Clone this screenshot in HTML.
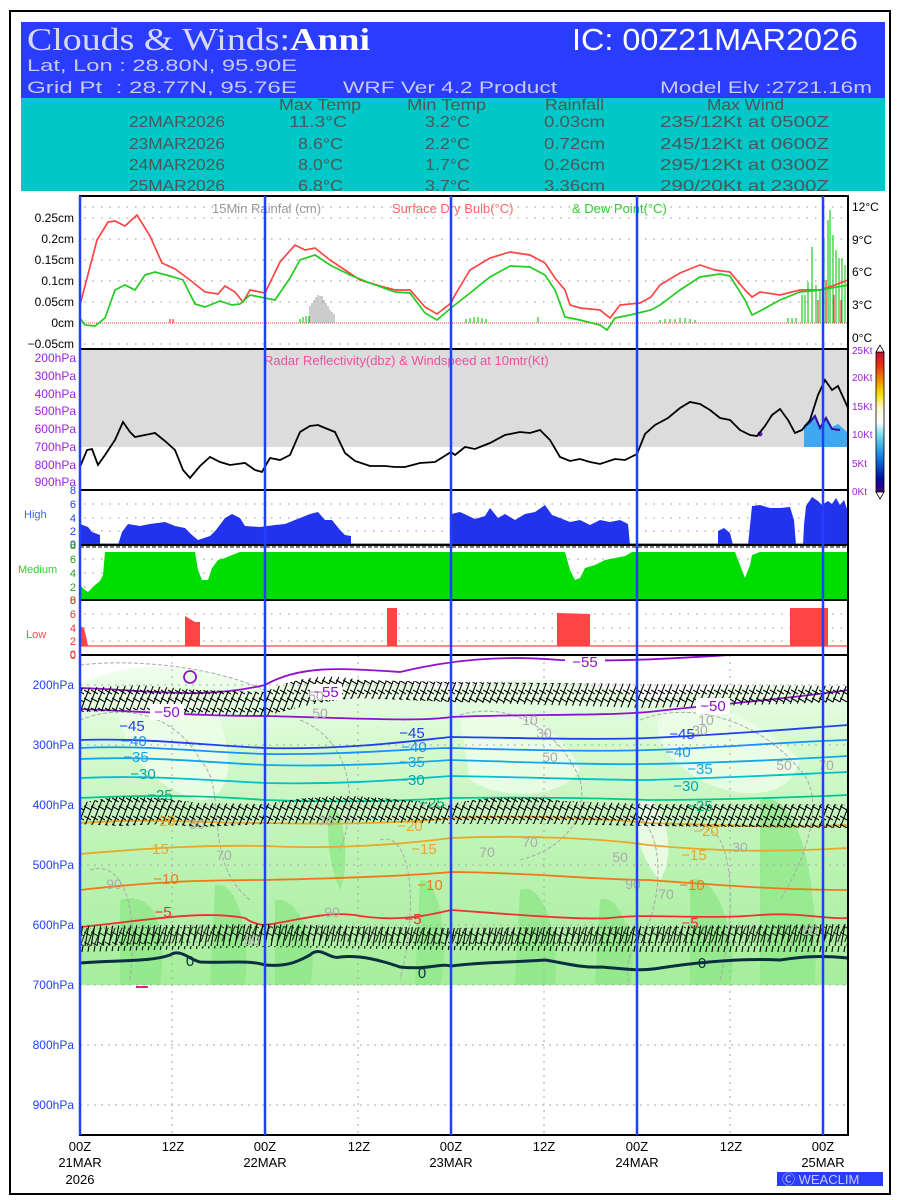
<!DOCTYPE html>
<html><head><meta charset="utf-8"><style>
html,body{margin:0;padding:0;background:#fff;}
svg{display:block;font-family:"Liberation Sans",sans-serif;}
</style></head><body>
<svg width="900" height="1200" viewBox="0 0 900 1200" xmlns="http://www.w3.org/2000/svg">
<defs>
<pattern id="barb" width="7" height="18" patternUnits="userSpaceOnUse">
<path d="M0 18 L7 0 M-3.5 9 L3.5 -9 M3.5 27 L10.5 9 M0 6 L7 10 M0 14 L7 18" stroke="#000" stroke-width="1.1"/>
</pattern>
<pattern id="barb2" width="6" height="22" patternUnits="userSpaceOnUse">
<path d="M1 22 L5 0" stroke="#000" stroke-width="1.1"/>
</pattern>
<linearGradient id="gfill" x1="0" y1="0" x2="0" y2="1">
<stop offset="0" stop-color="#f4fff2"/>
<stop offset="0.25" stop-color="#d8fad2"/>
<stop offset="0.55" stop-color="#c0f4b8"/>
<stop offset="1" stop-color="#a6ee9c"/>
</linearGradient>
<linearGradient id="cbar" x1="0" y1="0" x2="0" y2="1">
<stop offset="0" stop-color="#c0103a"/>
<stop offset="0.1" stop-color="#ee3010"/>
<stop offset="0.2" stop-color="#f08a00"/>
<stop offset="0.3" stop-color="#f8e000"/>
<stop offset="0.4" stop-color="#fff8d0"/>
<stop offset="0.5" stop-color="#ffffff"/>
<stop offset="0.6" stop-color="#70d8f0"/>
<stop offset="0.75" stop-color="#1080e0"/>
<stop offset="0.9" stop-color="#0010a0"/>
<stop offset="1" stop-color="#400080"/>
</linearGradient>
</defs>
<rect x="10" y="11" width="880" height="1183" fill="none" stroke="#000" stroke-width="2"/>
<rect x="21" y="22" width="864" height="76" fill="#2a3dff"/>
<rect x="21" y="98" width="864" height="93" fill="#00c8c8"/>
<text x="27" y="50" font-family="Liberation Serif,serif" font-size="32" fill="#d8d8f4" textLength="343" lengthAdjust="spacingAndGlyphs">Clouds &amp; Winds:<tspan fill="#fff" font-weight="bold">Anni</tspan></text>
<text x="572" y="50" font-size="31" fill="#fff" textLength="286" lengthAdjust="spacingAndGlyphs">IC: 00Z21MAR2026</text>
<text x="27" y="71" font-size="17" fill="#c8c8f0" textLength="270" lengthAdjust="spacingAndGlyphs">Lat, Lon : 28.80N, 95.90E</text>
<text x="27" y="93" font-size="17" fill="#c8c8f0" textLength="270" lengthAdjust="spacingAndGlyphs">Grid Pt&#160;&#160;: 28.77N, 95.76E</text>
<text x="343" y="93" font-size="17" fill="#c8c8f0" textLength="214" lengthAdjust="spacingAndGlyphs">WRF Ver 4.2 Product</text>
<text x="660" y="93" font-size="17" fill="#c8c8f0" textLength="212" lengthAdjust="spacingAndGlyphs">Model Elv :2721.16m</text>
<g font-size="16" fill="#4a5858">
<text x="279" y="110" textLength="82" lengthAdjust="spacingAndGlyphs">Max Temp</text><text x="407" y="110" textLength="79" lengthAdjust="spacingAndGlyphs">Min Temp</text><text x="545" y="110" textLength="59" lengthAdjust="spacingAndGlyphs">Rainfall</text><text x="707" y="110" textLength="77" lengthAdjust="spacingAndGlyphs">Max Wind</text>
<text x="129" y="127" textLength="96" lengthAdjust="spacingAndGlyphs">22MAR2026</text><text x="289" y="127" textLength="58" lengthAdjust="spacingAndGlyphs">11.3°C</text><text x="425" y="127" textLength="45" lengthAdjust="spacingAndGlyphs">3.2°C</text><text x="544" y="127" textLength="61" lengthAdjust="spacingAndGlyphs">0.03cm</text><text x="660" y="127" textLength="169" lengthAdjust="spacingAndGlyphs">235/12Kt at 0500Z</text>
<text x="129" y="149" textLength="96" lengthAdjust="spacingAndGlyphs">23MAR2026</text><text x="298" y="149" textLength="45" lengthAdjust="spacingAndGlyphs">8.6°C</text><text x="425" y="149" textLength="45" lengthAdjust="spacingAndGlyphs">2.2°C</text><text x="544" y="149" textLength="61" lengthAdjust="spacingAndGlyphs">0.72cm</text><text x="660" y="149" textLength="169" lengthAdjust="spacingAndGlyphs">245/12Kt at 0600Z</text>
<text x="129" y="170" textLength="96" lengthAdjust="spacingAndGlyphs">24MAR2026</text><text x="298" y="170" textLength="45" lengthAdjust="spacingAndGlyphs">8.0°C</text><text x="425" y="170" textLength="45" lengthAdjust="spacingAndGlyphs">1.7°C</text><text x="544" y="170" textLength="61" lengthAdjust="spacingAndGlyphs">0.26cm</text><text x="660" y="170" textLength="169" lengthAdjust="spacingAndGlyphs">295/12Kt at 0300Z</text>
<text x="129" y="191" textLength="96" lengthAdjust="spacingAndGlyphs">25MAR2026</text><text x="298" y="191" textLength="45" lengthAdjust="spacingAndGlyphs">6.8°C</text><text x="425" y="191" textLength="45" lengthAdjust="spacingAndGlyphs">3.7°C</text><text x="544" y="191" textLength="61" lengthAdjust="spacingAndGlyphs">3.36cm</text><text x="660" y="191" textLength="169" lengthAdjust="spacingAndGlyphs">290/20Kt at 2300Z</text>
</g>
<rect x="21" y="191" width="864" height="5" fill="#fff"/>

<g stroke="#aaa" stroke-width="1.3" stroke-dasharray="1.5,7">
<line x1="84" y1="218" x2="846" y2="218"/><line x1="84" y1="239" x2="846" y2="239"/><line x1="84" y1="260" x2="846" y2="260"/><line x1="84" y1="281" x2="846" y2="281"/><line x1="84" y1="302" x2="846" y2="302"/><line x1="84" y1="344" x2="846" y2="344"/><line x1="84" y1="207" x2="846" y2="207"/>
</g>
<line x1="80" y1="323" x2="848" y2="323" stroke="#e33" stroke-width="1" stroke-dasharray="1,1"/>
<g font-size="12" fill="#000" text-anchor="end">
<text x="74" y="222">0.25cm</text><text x="74" y="243">0.2cm</text><text x="74" y="264">0.15cm</text><text x="74" y="285">0.1cm</text><text x="74" y="306">0.05cm</text><text x="74" y="327">0cm</text><text x="74" y="348">−0.05cm</text>
</g>
<g font-size="12" fill="#000"><text x="852" y="211">12°C</text><text x="852" y="244">9°C</text><text x="852" y="276">6°C</text><text x="852" y="309">3°C</text><text x="852" y="342">0°C</text></g>
<text x="212" y="213" font-size="13" fill="#999">15Min Rainfal (cm)</text>
<text x="392" y="213" font-size="13" fill="#f66">Surface Dry Bulb(°C)</text>
<text x="572" y="213" font-size="13" fill="#3c3">&amp; Dew Point(°C)</text>
<g stroke="#999" stroke-width="1">
<path d="M310 323V306M312 323V303M314 323V300M316 323V297M318 323V295M320 323V296M322 323V296M324 323V300M326 323V303M328 323V306M330 323V310M332 323V312M334 323V314"/>
</g>
<g stroke="#2c2" stroke-width="1.2">
<path d="M300 323V319M303 323V317M306 323V316M309 323V316M466 323V319M470 323V318M474 323V317M478 323V317M482 323V318M486 323V319M538 323V317M660 323V320M665 323V319M670 323V319M675 323V319M680 323V318M685 323V318M690 323V319M695 323V320M788 323V318M792 323V318M796 323V318M808 323V282M812 323V247M816 323V285M820 323V290M824 323V240M828 323V220M830 323V210M833 323V235M836 323V250M839 323V258M842 323V258M845 323V265M802 323V295M805 323V295"/>
</g>
<g stroke="#e33" stroke-width="1.2"><path d="M170 323V319M173 323V319M818 323V300M826 323V280M834 323V295M841 323V300"/></g>
<polyline fill="none" stroke="#f44" stroke-width="1.7" points="80,305 97,240 108,222 115,221 125,226 137,215 150,236 162,263 175,269 190,280 205,292 218,294 225,286 235,292 243,302 250,290 265,293 280,262 295,245 305,250 315,248 330,260 345,270 360,280 380,286 395,290 410,290 425,307 437,314 451,303 455,295 470,270 490,258 510,252 530,255 545,263 555,278 565,290 570,305 580,308 600,310 610,318 620,305 640,303 651,297 660,285 680,273 700,265 715,270 730,272 745,290 752,297 760,292 780,295 800,290 820,290 835,285 848,280"/>
<polyline fill="none" stroke="#2c2" stroke-width="1.7" points="80,318 85,325 95,326 105,318 115,290 125,285 135,290 145,275 155,272 170,276 183,280 195,304 205,307 220,301 232,305 240,304 250,295 265,298 275,300 290,278 300,260 315,255 330,265 350,275 370,283 395,292 410,293 425,313 437,320 451,308 470,293 490,277 510,266 530,267 545,275 555,290 565,317 580,320 600,325 607,330 615,318 630,315 651,310 660,305 680,290 700,277 720,274 730,276 745,300 752,315 760,311 780,300 800,292 820,290 848,285"/>

<rect x="80" y="349" width="768" height="98" fill="#dcdcdc"/>
<g font-size="12" fill="#a020e0" text-anchor="end">
<text x="76" y="362">200hPa</text><text x="76" y="380">300hPa</text><text x="76" y="398">400hPa</text><text x="76" y="415">500hPa</text><text x="76" y="433">600hPa</text><text x="76" y="451">700hPa</text><text x="76" y="469">800hPa</text><text x="76" y="486">900hPa</text>
</g>
<g font-size="10" fill="#a020e0"><text x="852" y="354">25Kt</text><text x="852" y="381">20Kt</text><text x="852" y="410">15Kt</text><text x="852" y="438">10Kt</text><text x="852" y="467">5Kt</text><text x="852" y="495">0Kt</text></g>
<text x="264" y="365" font-size="13" fill="#f050a0">Radar Reflectivity(dbz) &amp; Windspeed at 10mtr(Kt)</text>
<path d="M804 447 L804 425 L810 420 L815 414 L820 427 L826 416 L832 427 L838 424 L845 430 L848 433 L848 447Z" fill="#40a8f0"/>
<path d="M804 427 L810 422 L815 416 L820 428 L826 418 L832 429 L840 430" fill="none" stroke="#3010a0" stroke-width="2"/>
<circle cx="760" cy="434" r="2.5" fill="#6020c0"/>
<polyline fill="none" stroke="#000" stroke-width="1.8" points="80,467 87,450 92,449 98,465 105,455 115,440 123,422 130,432 135,437 145,435 155,433 165,441 175,450 183,470 190,478 200,466 210,457 220,462 230,465 245,463 255,470 262,472 270,458 280,460 290,455 300,432 310,426 318,425 325,428 335,432 345,453 355,461 370,466 385,466 395,467 405,467 420,463 435,462 451,452 455,455 465,447 475,449 490,443 505,435 520,432 530,433 540,430 550,440 560,457 570,461 580,459 590,462 600,464 615,459 625,460 637,454 645,434 655,425 668,418 680,408 690,402 700,404 710,410 720,418 730,420 740,430 750,435 757,436 765,426 772,415 780,409 788,420 795,433 802,430 810,420 818,395 825,380 832,390 838,386 848,408"/>
<rect x="876" y="352" width="8" height="140" fill="url(#cbar)" stroke="#000" stroke-width="0.8"/>
<path d="M876 352 L880 345 L884 352Z M876 492 L880 499 L884 492Z" fill="#fff" stroke="#000" stroke-width="0.8"/>

<g stroke="#aaa" stroke-width="1.3" stroke-dasharray="1.5,7">
<line x1="84" y1="504" x2="846" y2="504"/><line x1="84" y1="518" x2="846" y2="518"/><line x1="84" y1="531" x2="846" y2="531"/>
<line x1="84" y1="559" x2="846" y2="559"/><line x1="84" y1="573" x2="846" y2="573"/><line x1="84" y1="587" x2="846" y2="587"/>
<line x1="84" y1="614" x2="846" y2="614"/><line x1="84" y1="628" x2="846" y2="628"/><line x1="84" y1="641" x2="846" y2="641"/>
</g>
<text x="24" y="518" font-size="11" fill="#4060ff">High</text>
<g font-size="11" fill="#2040ff" text-anchor="end"><text x="76" y="494">8</text><text x="76" y="508">6</text><text x="76" y="522">4</text><text x="76" y="535">2</text><text x="76" y="548">0</text></g>
<path fill="#2233ee" d="M80 545 L80 524 L88 527 L92 532 L100 535 L100 545Z M118 545 L122 532 L128 524 L140 526 L150 524 L165 522 L175 526 L185 528 L192 535 L198 540 L210 536 L216 530 L225 518 L232 514 L240 518 L245 526 L260 527 L275 525 L285 524 L300 518 L310 514 L318 512 L325 520 L332 520 L340 530 L345 535 L351 536 L351 545Z M451 545 L451 514 L460 512 L475 519 L485 516 L490 508 L498 518 L505 514 L515 520 L525 514 L535 512 L545 505 L552 515 L560 518 L570 522 L580 520 L590 525 L600 520 L610 522 L620 520 L628 524 L630 545Z M718 545 L718 531 L724 528 L730 533 L733 545Z M748 545 L752 506 L760 505 L770 508 L780 508 L790 507 L794 520 L796 545Z M803 545 L804 525 L806 506 L812 497 L818 501 L822 505 L828 501 L832 504 L836 498 L840 505 L844 500 L848 512 L848 545Z"/>
<line x1="80" y1="544" x2="848" y2="544" stroke="#2233ee" stroke-width="1"/>
<line x1="80" y1="547" x2="848" y2="547" stroke="#555" stroke-width="1.5" stroke-dasharray="4,2"/>
<text x="18" y="573" font-size="11" fill="#30d030">Medium</text>
<g font-size="11" fill="#20a020" text-anchor="end"><text x="76" y="549">8</text><text x="76" y="563">6</text><text x="76" y="577">4</text><text x="76" y="591">2</text><text x="76" y="604">0</text></g>
<path fill="#00dd00" d="M80 600 L80 585 L85 590 L88 592 L95 585 L100 581 L103 575 L105 552 L195 552 L198 570 L202 580 L208 580 L212 568 L218 560 L225 558 L232 555 L240 552 L565 552 L570 570 L575 580 L580 578 L585 568 L595 565 L605 560 L615 558 L625 556 L632 552 L735 552 L740 565 L745 578 L750 565 L752 555 L760 552 L848 552 L848 600Z"/>
<text x="26" y="638" font-size="11" fill="#f05050">Low</text>
<g font-size="11" fill="#f03030" text-anchor="end"><text x="76" y="604">8</text><text x="76" y="618">6</text><text x="76" y="632">4</text><text x="76" y="645">2</text><text x="76" y="658">0</text></g>
<line x1="80" y1="646" x2="848" y2="646" stroke="#f44" stroke-width="1.2"/>
<path fill="#f44" d="M80 646 L80 626 L84 628 L86 636 L88 646Z M185 646 L185 616 L190 619 L195 622 L200 622 L200 646Z M387 646 L387 608 L397 608 L397 646Z M557 646 L557 613 L590 614 L590 646Z M790 646 L790 608 L828 608 L828 646Z"/>

<rect x="80" y="655" width="768" height="330" fill="url(#gfill)"/>
<path d="M80 685 C120 660 200 660 265 690 C300 675 400 680 451 690 C520 672 600 680 648 700 C700 690 760 680 848 690 L848 655 L80 655Z" fill="#fff"/>
<g fill="#90e888" opacity="0.8">
<path d="M120 900 C150 890 170 920 160 985 L120 985Z"/>
<path d="M215 885 C240 880 250 940 245 985 L210 985 Z"/>
<path d="M275 900 C300 895 320 950 310 985 L275 985Z"/>
<path d="M330 810 C345 800 350 870 340 890 C330 870 325 830 330 810Z"/>
<path d="M420 880 C440 875 450 950 440 985 L415 985Z"/>
<path d="M520 890 C545 880 560 940 555 985 L515 985Z"/>
<path d="M600 900 C620 890 640 950 630 985 L595 985Z"/>
<path d="M760 800 C790 790 820 850 815 985 L760 985Z"/>
<path d="M690 880 C720 870 740 950 730 985 L690 985Z"/>
</g>
<g fill="#ecfde8" opacity="0.9">
<path d="M115 690 C150 670 200 690 220 720 C240 780 220 800 200 800 C160 790 120 760 115 690Z"/>
<path d="M460 720 C500 700 560 720 580 770 C560 800 500 800 470 780Z"/>
<path d="M660 710 C700 690 760 720 800 760 C790 800 740 800 700 780 C670 760 650 740 660 710Z"/>
<path d="M640 800 C660 790 680 850 660 880 C640 860 630 820 640 800Z"/>
</g>
<g fill="none" stroke="#aaa" stroke-width="1" stroke-dasharray="4,2">
<path d="M80 665 C120 660 200 662 265 690"/>
<path d="M80 720 C130 700 180 720 200 760 C230 790 200 860 250 900"/>
<path d="M300 720 C350 740 360 800 340 850"/>
<path d="M460 715 C510 700 560 730 580 780 C590 820 560 850 520 860"/>
<path d="M640 720 C690 700 760 720 800 770 C830 800 800 870 780 900"/>
<path d="M620 820 C650 800 670 860 650 920 C640 940 620 960 630 985"/>
<path d="M90 870 C120 860 140 900 130 980"/>
<path d="M380 840 C410 830 420 900 400 980"/>
<path d="M700 830 C730 820 740 900 720 980"/>
</g>
<g stroke="#aaa" stroke-width="1" stroke-dasharray="2,5">
<line x1="80" y1="685" x2="848" y2="685"/><line x1="80" y1="745" x2="848" y2="745"/><line x1="80" y1="805" x2="848" y2="805"/><line x1="80" y1="865" x2="848" y2="865"/><line x1="80" y1="925" x2="848" y2="925"/><line x1="80" y1="985" x2="848" y2="985"/><line x1="80" y1="1045" x2="848" y2="1045"/><line x1="80" y1="1105" x2="848" y2="1105"/>
<line x1="172" y1="655" x2="172" y2="1135"/><line x1="358" y1="655" x2="358" y2="1135"/><line x1="544" y1="655" x2="544" y2="1135"/><line x1="730" y1="655" x2="730" y2="1135"/>
</g>
<g fill="none" stroke-width="1.8">
<path stroke="#9010d0" d="M80 688 C150 690 200 700 265 685 C300 665 340 668 400 672 C450 660 500 655 560 660 C620 662 680 658 730 655"/>
<path stroke="#9010d0" d="M80 709 C150 712 200 716 265 716 C350 718 420 722 451 717 C520 714 600 716 648 712 C700 706 780 700 848 690"/>
<path stroke="#2040f0" d="M80 740 C150 738 200 745 265 748 C350 750 420 740 451 737 C520 738 600 740 648 738 C720 735 780 730 848 725"/>
<path stroke="#1890ff" d="M80 748 C150 745 200 752 265 754 C350 755 420 748 451 748 C520 750 600 752 648 750 C720 748 780 742 848 740"/>
<path stroke="#10a8e8" d="M80 759 C150 756 200 762 265 765 C350 767 420 762 451 760 C520 762 600 765 648 764 C720 763 780 760 848 756"/>
<path stroke="#00c0c8" d="M80 778 C150 775 200 780 265 783 C350 785 420 778 451 776 C520 777 600 780 648 780 C720 778 780 775 848 772"/>
<path stroke="#00c890" d="M80 798 C150 795 200 795 265 800 C350 803 420 800 451 798 C520 797 600 798 648 800 C720 800 780 798 848 795"/>
<path stroke="#e8a828" d="M80 823 C150 818 200 823 265 823 C350 825 420 822 451 818 C520 815 600 818 648 823 C720 825 780 828 848 825"/>
<path stroke="#e8a828" d="M80 854 C150 848 200 845 265 846 C350 850 420 842 451 838 C520 835 600 838 648 845 C720 852 780 852 848 848"/>
<path stroke="#f07818" d="M80 890 C150 882 200 880 265 880 C350 878 420 875 451 872 C520 872 600 880 648 880 C720 885 780 890 848 890"/>
<path stroke="#f03030" d="M80 927 C150 920 200 910 245 918 C250 922 260 925 265 925 C300 920 330 910 360 916 C400 922 430 915 451 910 C520 915 580 920 610 918 C650 913 700 920 760 915 C800 912 830 920 848 918"/>
<path stroke="#0a3040" stroke-width="3" d="M80 963 C120 960 150 962 170 955 C180 948 190 960 200 962 C230 963 250 960 265 965 C290 967 300 960 310 955 C320 945 330 960 340 957 C360 955 380 960 400 967 C430 970 440 963 451 966 C480 962 520 962 545 960 C560 962 580 968 600 967 C620 968 637 972 660 968 C700 962 740 958 780 960 C800 957 820 955 848 958"/>
</g>
<path d="M190 683 a6 6 0 1 1 0.1 0" fill="none" stroke="#9010d0" stroke-width="1.8"/>
<path d="M80 688 L140 685 L200 690 L265 692 C290 680 320 672 360 680 L451 682 L648 684 L848 686 L848 702 L648 708 L451 702 L360 698 C320 700 290 710 265 716 L200 714 L140 710 L80 712Z" fill="url(#barb)"/>
<path d="M80 803 L120 796 L160 798 L200 803 L265 804 C300 798 340 793 380 798 L451 804 C500 794 540 796 560 801 L648 804 L848 804 L848 828 L648 826 L560 824 L451 824 L380 822 L265 824 L200 827 L160 824 L120 826 L80 824Z" fill="url(#barb)"/>
<path d="M80 926 L265 924 L451 928 L648 926 L848 924 L848 952 L648 952 L451 950 L265 947 L80 952Z" fill="url(#barb2)"/>
<path d="M80 928 L265 926 L451 928 L848 926 L848 942 L451 944 L265 940 L80 946Z" fill="url(#barb)" opacity="0.8"/>
<g font-size="15" text-anchor="middle">
<rect x="565" y="655" width="40" height="14" fill="#fff"/><text x="585" y="667" fill="#9010d0">−55</text>
<rect x="310" y="684" width="32" height="16" fill="#fff"/><text x="326" y="697" fill="#9010d0">−55</text>
<rect x="150" y="704" width="34" height="16" fill="#fff"/><text x="167" y="717" fill="#9010d0">−50</text>
<rect x="696" y="698" width="34" height="16" fill="#fff"/><text x="713" y="711" fill="#9010d0">−50</text>
<text x="132" y="731" fill="#2040f0">−45</text><text x="412" y="738" fill="#2040f0">−45</text><text x="682" y="739" fill="#2040f0">−45</text>
<text x="134" y="746" fill="#1890ff">−40</text><text x="414" y="752" fill="#1890ff">−40</text><text x="678" y="757" fill="#1890ff">−40</text>
<text x="136" y="762" fill="#10a8e8">−35</text><text x="412" y="767" fill="#10a8e8">−35</text><text x="700" y="774" fill="#10a8e8">−35</text>
<text x="143" y="779" fill="#00a8b0">−30</text><text x="412" y="785" fill="#00a8b0">−30</text><text x="686" y="791" fill="#00a8b0">−30</text>
<text x="160" y="800" fill="#00b080">−25</text><text x="432" y="808" fill="#00b080">−25</text><text x="700" y="811" fill="#00b080">−25</text>
<text x="163" y="826" fill="#e8a828">−20</text><text x="410" y="831" fill="#e8a828">−20</text><text x="706" y="836" fill="#e8a828">−20</text>
<text x="156" y="854" fill="#e8a828">−15</text><text x="424" y="854" fill="#e8a828">−15</text><text x="694" y="860" fill="#e8a828">−15</text>
<text x="166" y="884" fill="#f07818">−10</text><text x="430" y="890" fill="#f07818">−10</text><text x="692" y="890" fill="#f07818">−10</text>
<text x="163" y="917" fill="#f03030">−5</text><text x="413" y="924" fill="#f03030">−5</text><text x="690" y="928" fill="#f03030">−5</text>
<text x="190" y="966" fill="#0a3040">0</text><text x="422" y="978" fill="#0a3040">0</text><text x="702" y="968" fill="#0a3040">0</text>
<g fill="#aaa" font-size="14">
<text x="316" y="701">50</text><text x="320" y="718">50</text><text x="530" y="725">10</text><text x="544" y="738">30</text><text x="550" y="762">50</text><text x="706" y="725">10</text><text x="700" y="735">30</text><text x="784" y="770">50</text><text x="826" y="770">70</text>
<text x="197" y="829">50</text><text x="326" y="826">70</text><text x="224" y="860">70</text><text x="487" y="857">70</text><text x="530" y="847">70</text><text x="620" y="862">50</text><text x="740" y="852">30</text><text x="114" y="889">90</text><text x="332" y="917">90</text><text x="633" y="889">90</text><text x="666" y="899">70</text><text x="252" y="945">90</text><text x="810" y="935">50</text>
</g>
</g>
<path d="M136 987 L148 987" stroke="#e02080" stroke-width="2"/>
<g font-size="12" fill="#2040ff" text-anchor="end">
<text x="74" y="689">200hPa</text><text x="74" y="749">300hPa</text><text x="74" y="809">400hPa</text><text x="74" y="869">500hPa</text><text x="74" y="929">600hPa</text><text x="74" y="989">700hPa</text><text x="74" y="1049">800hPa</text><text x="74" y="1109">900hPa</text>
</g>
<text x="76" y="659" font-size="11" fill="#f03030" text-anchor="end">0</text>

<g stroke="#000" stroke-width="2" fill="none">
<rect x="80" y="196" width="768" height="939"/>
<line x1="80" y1="349" x2="848" y2="349"/><line x1="80" y1="490" x2="848" y2="490"/><line x1="80" y1="545" x2="848" y2="545"/><line x1="80" y1="600" x2="848" y2="600"/><line x1="80" y1="655" x2="848" y2="655"/>
</g>
<g stroke="#2040ff" stroke-width="2.5">
<line x1="80" y1="196" x2="80" y2="1135"/><line x1="265" y1="196" x2="265" y2="1135"/><line x1="451" y1="196" x2="451" y2="1135"/><line x1="637" y1="196" x2="637" y2="1135"/><line x1="823" y1="196" x2="823" y2="1135"/>
</g>
<g font-size="13" fill="#000" text-anchor="middle">
<text x="80" y="1151">00Z</text><text x="80" y="1167">21MAR</text><text x="80" y="1184">2026</text>
<text x="173" y="1151">12Z</text>
<text x="265" y="1151">00Z</text><text x="265" y="1167">22MAR</text>
<text x="359" y="1151">12Z</text>
<text x="451" y="1151">00Z</text><text x="451" y="1167">23MAR</text>
<text x="544" y="1151">12Z</text>
<text x="637" y="1151">00Z</text><text x="637" y="1167">24MAR</text>
<text x="731" y="1151">12Z</text>
<text x="823" y="1151">00Z</text><text x="823" y="1167">25MAR</text>
</g>
<rect x="777" y="1172" width="106" height="14" fill="#2a3dff"/>
<text x="782" y="1184" font-size="13" fill="#c8c8ff">Ⓒ WEACLIM</text>
</svg>
</body></html>
